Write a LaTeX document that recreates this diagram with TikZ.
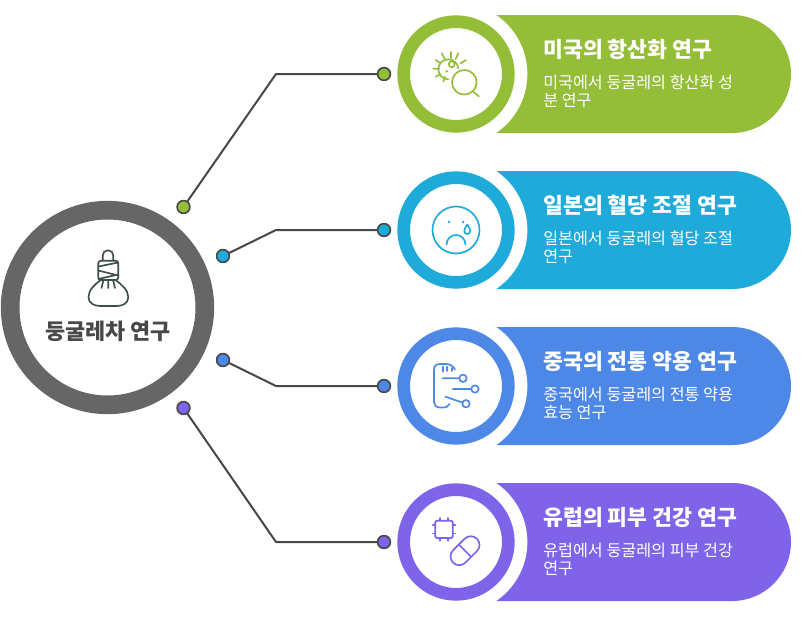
\documentclass[tikz,border=0pt]{standalone}
\usepackage{fontspec}
\setmainfont{Noto Sans CJK KR}
\usepackage{xcolor}
\definecolor{hub}{HTML}{666666}
\definecolor{ink}{HTML}{484848}
\definecolor{wirec}{HTML}{474747}
\definecolor{bagc}{HTML}{3C4F4B}
\definecolor{olive}{HTML}{94BD38}
\definecolor{sky}{HTML}{1EABDA}
\definecolor{azure}{HTML}{4E88E7}
\definecolor{violet}{HTML}{7F63E8}
\tikzset{
  ring/.style={circle, draw=#1, fill=white, line width=9.5pt, minimum size=78.5pt, inner sep=0pt},
  gap/.style={circle, fill=white, minimum size=107pt, inner sep=0pt},
  pill/.style={fill=#1},
  pt/.style={circle, fill=#1, draw=wirec, line width=1.2pt, minimum size=9.6pt, inner sep=0pt},
  wire/.style={draw=wirec, line width=1.5pt, line cap=round, line join=round},
  icon/.style={draw=#1, line width=1.25pt, line cap=round, line join=round},
  head/.style={text=white, font=\fontsize{16.2pt}{18pt}\bfseries, anchor=base west, inner sep=0pt},
  body/.style={text=white, font=\fontsize{12.15pt}{13.5pt}\selectfont, anchor=base west, inner sep=0pt, align=left},
}
\begin{document}
\begin{tikzpicture}[x=0.75pt, y=-0.75pt]
  \useasboundingbox (0,0) rectangle (811,621);

  % centre
  \node[circle, draw=hub, fill=white, line width=14pt, minimum size=146pt, inner sep=0pt] (hubc) at (107.5,307.5) {};
  \node[text=ink, font=\fontsize{16.4pt}{18pt}\bfseries] (hubt) at (108,331) {둥굴레차 연구};
  \draw[icon=bagc] (102.7,260.7) -- (102.7,255.5) arc[start angle=180, end angle=360, radius=5.3] -- (113.3,260.7);
  \draw[icon=bagc, rounded corners=2pt] (98.3,260.7) rectangle (118.3,280);
  \draw[icon=bagc] (98.3,266.5) -- (118.3,262.5) (98.3,270.5) -- (118.3,275.5) (98.3,279) -- (118.3,274.5);
  \draw[icon=bagc] (101,280) .. controls (95,284) and (88.5,290) .. (88.5,297)
    .. controls (88.5,303) and (94,306) .. (100,306) -- (117,306)
    .. controls (123,306) and (128.3,303) .. (128.3,297)
    .. controls (128.3,290) and (121,284) .. (115.5,280);
  \draw[icon=bagc] (103.5,280) -- (101.5,288) (108.3,280) -- (108.3,288) (113,280) -- (115,288);

  % cards
  \path[pill=olive] (480,15) -- (732,15) arc[start angle=-90, end angle=90, radius=59] -- (480,133) -- cycle;
  \path[pill=sky] (480,171) -- (732,171) arc[start angle=-90, end angle=90, radius=59] -- (480,289) -- cycle;
  \path[pill=azure] (480,327) -- (732,327) arc[start angle=-90, end angle=90, radius=59] -- (480,445) -- cycle;
  \path[pill=violet] (480,483) -- (732,483) arc[start angle=-90, end angle=90, radius=59] -- (480,601) -- cycle;
  \node[gap] (gapa) at (456,74) {};
  \node[gap] (gapb) at (456,230) {};
  \node[gap] (gapc) at (456,386) {};
  \node[gap] (gapd) at (456,542) {};
  \node[ring=olive] (ringa) at (456,74) {};
  \node[ring=sky] (ringb) at (456,230) {};
  \node[ring=azure] (ringc) at (456,386) {};
  \node[ring=violet] (ringd) at (456,542) {};

  % labels
  \node[head] (heada) at (543,57) {미국의 항산화 연구};
  \node[body] (bodya) at (543,106) {미국에서 둥굴레의 항산화 성\\분 연구};
  \node[head] (headb) at (543,213) {일본의 혈당 조절 연구};
  \node[body] (bodyb) at (543,262) {일본에서 둥굴레의 혈당 조절\\연구};
  \node[head] (headc) at (543,369) {중국의 전통 약용 연구};
  \node[body] (bodyc) at (543,418) {중국에서 둥굴레의 전통 약용\\효능 연구};
  \node[head] (headd) at (543,525) {유럽의 피부 건강 연구};
  \node[body] (bodyd) at (543,574) {유럽에서 둥굴레의 피부 건강\\연구};

  % connectors
  \node[pt=olive] (ina) at (183.5,207) {};
  \node[pt=sky] (inb) at (223,256) {};
  \node[pt=azure] (inc) at (223,360) {};
  \node[pt=violet] (ind) at (183.5,408) {};
  \node[pt=olive] (outa) at (384,74) {};
  \node[pt=sky] (outb) at (384,230) {};
  \node[pt=azure] (outc) at (384,386) {};
  \node[pt=violet] (outd) at (384,542) {};
  \coordinate (elba) at (276,74);
  \coordinate (elbb) at (276,230);
  \coordinate (elbc) at (276,386);
  \coordinate (elbd) at (276,542);
  \draw[wire] (ina) -- (elba) -- (outa);
  \draw[wire] (inb) -- (elbb) -- (outb);
  \draw[wire] (inc) -- (elbc) -- (outc);
  \draw[wire] (ind) -- (elbd) -- (outd);

  % microbe
  \draw[icon=olive] (448.3,79.3) arc[start angle=90, end angle=355, radius=10];
  \draw[icon=olive] (451.7,64.3) circle[radius=3];
  \fill[olive] (446.7,71.3) circle[radius=1.4];
  \draw[icon=olive] (464.3,82.3) circle[radius=12.3];
  \draw[icon=olive] (473.3,91.7) -- (478.7,96.3);
  \draw[icon=olive] (451,52) -- (451,58) (433.3,68.7) -- (439.3,68.7) (435.7,60) -- (440.7,63.3)
    (441.7,53.3) -- (445,59.3) (458.3,53.3) -- (455.7,59) (466,60) -- (460.7,63.3)
    (435.7,76.7) -- (440.7,74) (443.3,81.7) -- (445,76.7);

  % sad face
  \draw[icon=sky] (456,230) circle[radius=23.5];
  \fill[sky] (449,222) circle[radius=1.4] (463.3,222) circle[radius=1.4];
  \draw[icon=sky] (467.3,224.5) .. controls (465.5,227.5) and (464.3,229) .. (464.3,231)
    arc[start angle=180, end angle=0, radius=3] .. controls (470.3,229) and (469,227.5) .. (467.3,224.5);
  \draw[icon=sky] (446.5,244.5) arc[start angle=180, end angle=360, radius=9.5];

  % nerve
  \draw[icon=azure] (449.5,404) .. controls (448,406.5) and (446,407.5) .. (444,407.5) -- (440,407.5)
    .. controls (436,407.5) and (434,405) .. (434,402) -- (434,370)
    .. controls (434,366) and (436,364) .. (440,364) -- (446,364) .. controls (450,364) and (453,366) .. (455,369.5);
  \draw[icon=azure] (442.7,366.7) -- (442.7,371.7) (447.3,366.7) -- (447.3,371) (451.7,368) -- (451.7,371);
  \draw[icon=azure] (442.7,378.3) -- (459.3,378.3) (452.7,389) -- (471.3,389) (445.3,396.7) -- (462.5,402.5);
  \draw[icon=azure] (463,378.3) circle[radius=3.7] (475,389) circle[radius=3.7] (466,403.7) circle[radius=3.7];

  % chip and capsule
  \draw[icon=violet, rounded corners=1pt] (435.3,520.7) rectangle (452.7,538);
  \draw[icon=violet] (440,518) -- (440,520.7) (448,518) -- (448,520.7) (440,538) -- (440,540.7) (448,538) -- (448,540.7)
    (432.7,525) -- (435.3,525) (432.7,533.5) -- (435.3,533.5) (452.7,525) -- (455.3,525) (452.7,533.5) -- (455.3,533.5);
  \draw[icon=violet, rounded corners=6.4pt, rotate around={45:(465,550.7)}] (448.2,542) rectangle (481.8,559.4);
  \draw[icon=violet, rotate around={45:(465,550.7)}] (465,542) -- (465,559.4);
\end{tikzpicture}
\end{document}
